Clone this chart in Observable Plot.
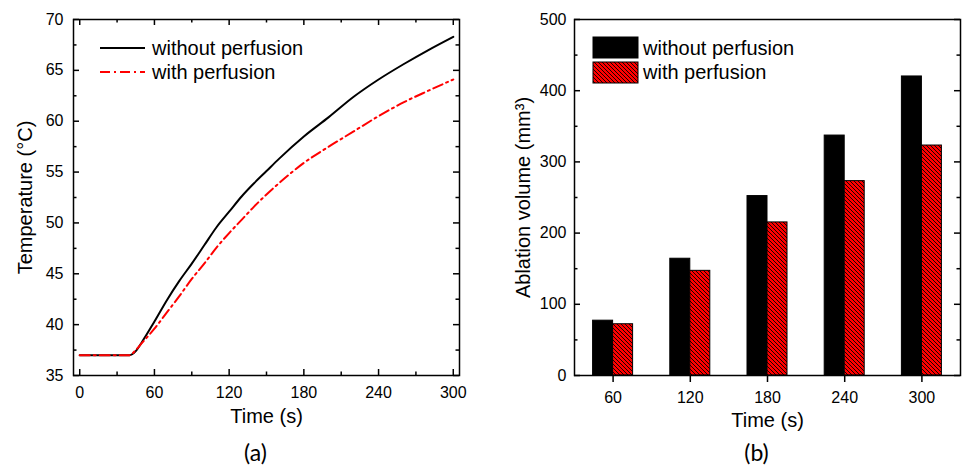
<!DOCTYPE html>
<html><head><meta charset="utf-8">
<script src="https://cdn.jsdelivr.net/npm/d3@7"></script>
<script src="https://cdn.jsdelivr.net/npm/@observablehq/plot@0.6"></script>
<style>
body{margin:0;background:#fff;}
#wrap{position:relative;width:962px;height:467px;display:flex;}
#wrap > svg{flex:none;}
.overlay{position:absolute;left:0;top:0;pointer-events:none;}
</style></head><body><div id="wrap"></div>
<script>
const seriesNames = ["without perfusion", "with perfusion"];
const tempTime    = [0,10,20,30,40,45,50,60,70,80,90,100,110,120,130,140,150,160,180,200,220,240,260,280,300];
const tempWithout = [37,37,37,37,37,37.4,38.3,40.3,42.4,44.3,46.0,47.8,49.6,51.1,52.6,53.9,55.1,56.3,58.5,60.4,62.4,64.1,65.6,67.0,68.3];
const tempWith    = [37,37,37,37,37,37.5,38.2,39.6,41.2,42.8,44.5,46.0,47.6,49.0,50.3,51.6,52.8,53.9,55.9,57.5,59.0,60.5,61.85,63.0,64.1];
const barTimes    = [60,120,180,240,300];
const volWithout  = [77,164,252,337,420];
const volWith     = [72,147,215,273,323];
const tempYTicks  = [35,40,45,50,55,60,65,70];
const tempYMinor  = [37.5,42.5,47.5,52.5,57.5,62.5,67.5];
const tempXTicks  = [0,60,120,180,240,300];
const tempXMinor  = [30,90,150,210,270];
const volYTicks   = [0,100,200,300,400,500];
const volYMinor   = [50,150,250,350,450];

const FONT = "'Liberation Sans', Arial, sans-serif";
const W = 481, H = 467;
const MT = 19, MB = 92;
const frameH = H - MT - MB;
const majorLen = 6, minorLen = 3.5;

function frameTicks(fw, yMaj, yMin, xMaj, xMin) {
  const m = [];
  const st = {stroke: "#000", strokeWidth: 1.5};
  m.push(Plot.tickY(yMaj, {y: d => d, insetRight: fw - majorLen, ...st}));
  m.push(Plot.tickY(yMaj, {y: d => d, insetLeft: fw - majorLen, ...st}));
  m.push(Plot.tickY(yMin, {y: d => d, insetRight: fw - minorLen, ...st}));
  m.push(Plot.tickY(yMin, {y: d => d, insetLeft: fw - minorLen, ...st}));
  if (xMaj) {
    m.push(Plot.tickX(xMaj, {x: d => d, insetTop: frameH - majorLen, ...st}));
    m.push(Plot.tickX(xMaj, {x: d => d, insetBottom: frameH - majorLen, ...st}));
    m.push(Plot.tickX(xMin, {x: d => d, insetTop: frameH - minorLen, ...st}));
    m.push(Plot.tickX(xMin, {x: d => d, insetBottom: frameH - minorLen, ...st}));
  }
  return m;
}

// ---------- (a) temperature ----------
const fw1 = 386;
const left = Plot.plot({
  width: W, height: H, marginLeft: 73, marginRight: 22, marginTop: MT, marginBottom: MB,
  style: {fontFamily: FONT, fontSize: "16px", color: "#000", background: "#fff"},
  x: {domain: [-5, 305]},
  y: {domain: [35, 70]},
  marks: [
    Plot.line(tempTime, {x: d => d, y: (d, i) => tempWithout[i], stroke: "#000", strokeWidth: 2, curve: "monotone-x"}),
    Plot.line(tempTime, {x: d => d, y: (d, i) => tempWith[i], stroke: "#ff0000", strokeWidth: 2, strokeDasharray: "10,4,2,4", curve: "monotone-x"}),
    ...frameTicks(fw1, tempYTicks, tempYMinor, tempXTicks, tempXMinor),
    Plot.frame({stroke: "#000", strokeWidth: 1.5}),
    Plot.axisY({ticks: tempYTicks, tickSize: 0, tickPadding: 10, label: null, fontSize: 16}),
    Plot.axisX({ticks: tempXTicks, tickSize: 0, tickPadding: 11, label: null, fontSize: 16}),
    Plot.text(["Temperature (°C)"], {text: d => d, frameAnchor: "left", textAnchor: "middle", lineAnchor: "middle", dx: -48, rotate: -90, fontSize: 20}),
    Plot.text(["Time (s)"], {text: d => d, frameAnchor: "bottom", textAnchor: "middle", lineAnchor: "middle", dy: 41, fontSize: 20}),
    Plot.text(["(a)"], {text: d => d, frameAnchor: "bottom", textAnchor: "middle", lineAnchor: "middle", dy: 78, dx: -11, fontSize: 23, fontFamily: "Lato, 'Open Sans', sans-serif"})
  ]
});

// ---------- (b) ablation volume ----------
const fw2 = 386;
const bw = fw2 / barTimes.length;
const barW = 20;
const right = Plot.plot({
  width: W, height: H, marginLeft: 93, marginRight: 2, marginTop: MT, marginBottom: MB,
  style: {fontFamily: FONT, fontSize: "16px", color: "#000", background: "#fff"},
  x: {domain: barTimes, padding: 0, round: false},
  y: {domain: [0, 500]},
  marks: [
    Plot.barY(barTimes, {x: d => d, y: (d, i) => volWithout[i], fill: "#000", stroke: "#000", strokeWidth: 1, insetLeft: bw / 2 - barW, insetRight: bw / 2}),
    Plot.barY(barTimes, {x: d => d, y: (d, i) => volWith[i], fill: "url(#hatch)", stroke: "#000", strokeWidth: 1, insetLeft: bw / 2, insetRight: bw / 2 - barW}),
    ...frameTicks(fw2, volYTicks, volYMinor, null, null),
    Plot.frame({stroke: "#000", strokeWidth: 1.5}),
    Plot.axisY({ticks: volYTicks, tickSize: 0, tickPadding: 8, label: null, fontSize: 16}),
    Plot.axisX({tickSize: 7, tickPadding: 9, label: null, fontSize: 16, strokeWidth: 1.5}),
    Plot.text(["Ablation volume (mm³)"], {text: d => d, frameAnchor: "left", textAnchor: "middle", lineAnchor: "middle", dx: -51, rotate: -90, fontSize: 20}),
    Plot.text(["Time (s)"], {text: d => d, frameAnchor: "bottom", textAnchor: "middle", lineAnchor: "middle", dy: 45, fontSize: 20}),
    Plot.text(["(b)"], {text: d => d, frameAnchor: "bottom", textAnchor: "middle", lineAnchor: "middle", dy: 78, dx: -11, fontSize: 23, fontFamily: "Lato, 'Open Sans', sans-serif"})
  ]
});

const hatchDef = (id) => `<pattern id="${id}" patternUnits="userSpaceOnUse" width="4" height="4"><rect width="4" height="4" fill="#ff0000"/><path d="M-1,-1 L5,5 M3,-1 L5,1 M-1,3 L1,5" stroke="#000" stroke-width="0.9"/></pattern>`;
const rsvg = right.tagName.toLowerCase() === "svg" ? right : right.querySelector("svg");
d3.select(rsvg).insert("defs", ":first-child").html(hatchDef("hatch"));

const wrap = document.getElementById("wrap");
wrap.appendChild(left);
wrap.appendChild(right);

// legends
const ov = d3.select(wrap).append("svg").attr("class", "overlay").attr("width", 962).attr("height", 467);
ov.append("defs").html(hatchDef("hatch2"));
const lg = ov.append("g").attr("font-family", FONT).attr("font-size", 20).attr("fill", "#000");
lg.append("line").attr("x1", 100).attr("x2", 145).attr("y1", 48).attr("y2", 48).attr("stroke", "#000").attr("stroke-width", 2);
lg.append("line").attr("x1", 100).attr("x2", 145).attr("y1", 72).attr("y2", 72).attr("stroke", "#ff0000").attr("stroke-width", 2).attr("stroke-dasharray", "10,4,2,4");
lg.append("text").attr("x", 152).attr("y", 55).text(seriesNames[0]);
lg.append("text").attr("x", 152).attr("y", 79).text(seriesNames[1]);
lg.append("rect").attr("x", 593).attr("y", 37).attr("width", 45).attr("height", 21).attr("fill", "#000").attr("stroke", "#000");
lg.append("rect").attr("x", 593).attr("y", 62).attr("width", 45).attr("height", 21).attr("fill", "url(#hatch2)").attr("stroke", "#000");
lg.append("text").attr("x", 643).attr("y", 55).text(seriesNames[0]);
lg.append("text").attr("x", 643).attr("y", 79).text(seriesNames[1]);
</script>
</body></html>
